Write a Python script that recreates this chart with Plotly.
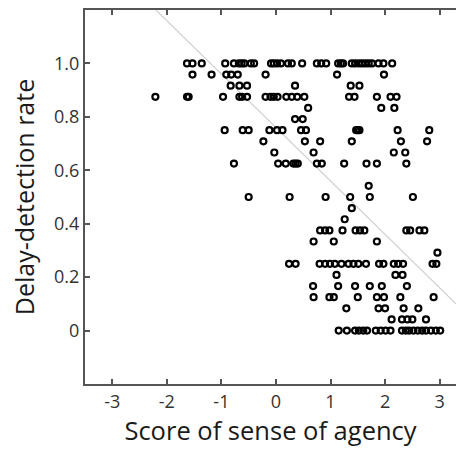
import plotly.graph_objects as go

# Delay-detection rate levels (k/24) and the sense-of-agency scores at each level
rate_levels = [24, 23, 22, 21, 20, 19, 18, 17, 16, 15, 13, 12, 11, 10, 9, 8, 7, 6, 5, 4, 3, 2, 1, 0]
scores_by_level = [
    [-1.63, -1.53, -1.36, -0.93, -0.77, -0.68, -0.63, -0.58, -0.46, -0.40, -0.09, -0.04, 0.02, 0.09,
     0.22, 0.29, 0.48, 0.75, 0.83, 0.92, 1.14, 1.19, 1.23, 1.39, 1.45, 1.52, 1.58, 1.64, 1.70, 1.76,
     1.88, 1.97, 2.13],
    [-1.53, -1.18, -0.91, -0.82, -0.70, -0.19, 1.12, 1.98],
    [-0.83, -0.67, -0.53, 0.35, 1.37, 1.53],
    [-2.21, -1.63, -1.60, -0.97, -0.67, -0.62, -0.53, -0.19, -0.10, -0.04, 0.03, 0.19, 0.29, 0.39,
     0.52, 1.34, 1.44, 1.85, 2.10, 2.21],
    [0.59, 1.93, 2.17],
    [0.35, 0.49],
    [-0.94, -0.61, -0.50, -0.12, 0.02, 0.12, 0.46, 0.55, 1.47, 1.50, 1.53, 2.23, 2.81],
    [-0.23, 0.53, 0.81, 1.39, 2.29, 2.77],
    [-0.03, 0.69, 2.16, 2.37],
    [-0.77, 0.04, 0.18, 0.32, 0.36, 0.40, 0.75, 0.84, 1.25, 1.66, 1.85, 2.39],
    [1.70],
    [-0.50, 0.25, 0.91, 1.36, 1.72, 2.51],
    [1.39],
    [1.26],
    [0.81, 0.90, 0.98, 1.22, 1.46, 1.54, 1.62, 2.39, 2.46, 2.63, 2.72],
    [0.69, 1.06, 1.85],
    [2.96],
    [0.24, 0.36, 0.80, 0.90, 0.99, 1.08, 1.20, 1.33, 1.42, 1.51, 1.65, 1.89, 1.97, 2.16, 2.24, 2.33,
     2.87, 2.94],
    [1.11, 2.19, 2.32],
    [0.68, 1.14, 1.45, 1.72, 1.94, 2.40],
    [0.69, 0.98, 1.06, 1.50, 1.85, 1.98, 2.28, 2.89],
    [1.29, 1.88, 2.00, 2.34, 2.61],
    [2.12, 2.31, 2.41, 2.50, 2.75],
    [1.15, 1.30, 1.45, 1.52, 1.60, 1.67, 1.83, 1.92, 2.01, 2.10, 2.31, 2.38, 2.44, 2.52, 2.60, 2.68,
     2.75, 2.84, 2.93, 3.01],
]
rate_denominator = 24

# Fitted line parameters
fit_intercept = 0.76
fit_slope = -0.20

x_tick_vals = [-3, -2, -1, 0, 1, 2, 3]
x_tick_text = ["-3", "-2", "-1", "0", "1", "2", "3"]
y_tick_vals = [0, 0.2, 0.4, 0.6, 0.8, 1.0]
y_tick_text = ["0", "0.2", "0.4", "0.6", "0.8", "1.0"]

x_range = [-3.5, 3.30]
y_range = [-0.2, 1.2]

xs, ys = [], []
for k, vals in zip(rate_levels, scores_by_level):
    for v in vals:
        xs.append(v)
        ys.append(k / rate_denominator)

line_x = [x_range[0], x_range[1]]
line_y = [fit_intercept + fit_slope * v for v in line_x]

fig = go.Figure()
fig.add_trace(go.Scatter(
    x=line_x, y=line_y, mode="lines",
    line=dict(color="#cfcfcf", width=1.2),
    hoverinfo="skip", showlegend=False,
))
fig.add_trace(go.Scatter(
    x=xs, y=ys, mode="markers",
    marker=dict(symbol="circle-open", size=6, color="black", line=dict(width=2.2, color="black")),
    showlegend=False,
))

font_family = "Open Sans, Noto Sans, DejaVu Sans, sans-serif"
fig.update_layout(
    width=456, height=450,
    margin=dict(l=85, r=0, t=10, b=66),
    paper_bgcolor="white", plot_bgcolor="white",
    font=dict(family=font_family, color="#262626"),
    xaxis=dict(
        range=x_range, tickvals=x_tick_vals, ticktext=x_tick_text,
        ticks="inside", ticklen=5, tickwidth=1.5, tickcolor="#555555",
        showline=True, linecolor="#555555", linewidth=2, mirror="ticks",
        showgrid=False, zeroline=False,
        tickfont=dict(size=18, color="#333333"),
        title=dict(text="Score of sense of agency", font=dict(size=25.5, color="#1a1a1a"), standoff=7),
    ),
    yaxis=dict(
        range=y_range, tickvals=y_tick_vals, ticktext=y_tick_text,
        ticks="inside", ticklen=5, tickwidth=1.5, tickcolor="#555555",
        showline=True, linecolor="#555555", linewidth=2, mirror=False,
        showgrid=False, zeroline=False,
        tickfont=dict(size=18, color="#333333"),
        title=dict(text="Delay-detection rate", font=dict(size=25, color="#1a1a1a"), standoff=12),
    ),
)

fig.write_html(
    "out.html",
    config={"displayModeBar": False},
    post_script="document.body.style.margin='0';document.body.style.overflow='hidden';",
)
